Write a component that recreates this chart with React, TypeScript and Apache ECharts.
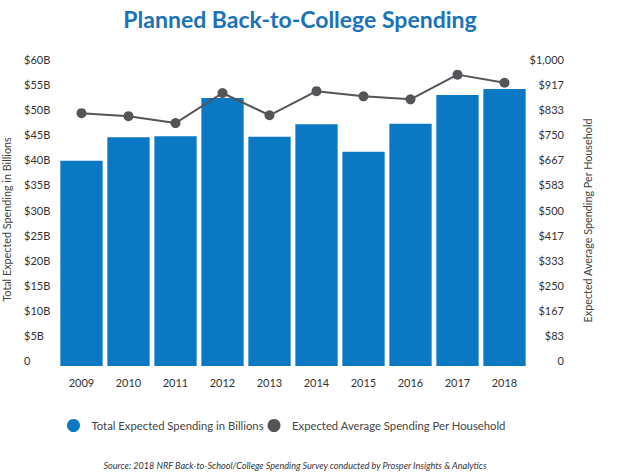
import React, { useEffect, useRef } from "react";
import * as echarts from "echarts";

const years = ["2009", "2010", "2011", "2012", "2013", "2014", "2015", "2016", "2017", "2018"];
const totalSpending = [40.9, 45.6, 45.8, 53.4, 45.7, 48.2, 42.7, 48.3, 54.0, 55.2];
const householdSpending = [840, 830, 807, 907, 833, 913, 896, 886, 968, 941];
const leftTicks = ["0", "$5B", "$10B", "$15B", "$20B", "$25B", "$30B", "$35B", "$40B", "$45B", "$50B", "$55B", "$60B"];
const rightTicks = ["0", "$83", "$167", "$250", "$333", "$417", "$500", "$583", "$667", "$750", "$833", "$917", "$1,000"];

const FONT = "Lato, 'Open Sans', sans-serif";

export default function App() {
  const ref = useRef<HTMLDivElement>(null);
  useEffect(() => {
    document.body.style.margin = "0";
    if (!ref.current) return;
    const chart = echarts.init(ref.current, undefined, { renderer: "svg" });
    chart.setOption({
      animation: false,
      textStyle: { fontFamily: FONT },
      title: {
        text: "Planned Back-to-College Spending",
        left: 295,
        textAlign: "center",
        top: 2,
        textStyle: { fontSize: 23, fontWeight: "bold", color: "#1a72b8", fontFamily: FONT },
      },
      legend: {
        top: 414,
        left: 62,
        itemWidth: 26,
        itemHeight: 13,
        itemGap: 4,
        icon: "circle",
        textStyle: { fontSize: 11.3, color: "#444", fontFamily: FONT },
        data: [
          { name: "Total Expected Spending in Billions", itemStyle: { color: "#0a78c2" } },
          { name: "Expected Average Spending Per Household", itemStyle: { color: "#555559" } },
        ],
      },
      graphic: [
        {
          type: "text",
          x: 295,
          y: 465,
          style: {
            text: "Source: 2018 NRF Back-to-School/College Spending Survey conducted by Prosper Insights & Analytics",
            fontSize: 9.1,
            fontStyle: "italic",
            fill: "#333",
            fontFamily: FONT,
            align: "center",
            verticalAlign: "middle",
          },
        },
      ],
      grid: { left: 58, right: 92, top: 65, bottom: 108, containLabel: false, outerBoundsMode: "none" },
      xAxis: {
        type: "category",
        data: years,
        axisLine: { show: false },
        axisTick: { show: false },
        axisLabel: { color: "#333", fontSize: 11, margin: 11, fontFamily: FONT },
      },
      yAxis: [
        {
          type: "value",
          min: 0,
          max: 60,
          interval: 5,
          name: "Total Expected Spending in Billions",
          nameLocation: "middle",
          nameGap: 46,
          nameTextStyle: { fontSize: 10.8, color: "#444", fontFamily: FONT, padding: [0, 8, 0, 0] },
          splitLine: { show: false },
          axisLine: { show: false },
          axisTick: { show: false },
          axisLabel: {
            align: "left",
            verticalAlign: "bottom",
            margin: 34,
            fontSize: 11,
            color: "#333",
            fontFamily: FONT,
            formatter: (v: number) => leftTicks[Math.round(v / 5)],
          },
        },
        {
          type: "value",
          min: 0,
          max: 60,
          interval: 5,
          name: "Expected Average Spending Per Household",
          nameLocation: "middle",
          nameGap: 54,
          nameTextStyle: { fontSize: 10.8, color: "#444", fontFamily: FONT, padding: [0, 10, 0, 0] },
          splitLine: { show: false },
          axisLine: { show: false },
          axisTick: { show: false },
          axisLabel: {
            align: "right",
            verticalAlign: "bottom",
            margin: 36,
            fontSize: 11,
            color: "#333",
            fontFamily: FONT,
            formatter: (v: number) => rightTicks[Math.round(v / 5)],
          },
        },
      ],
      series: [
        {
          name: "Total Expected Spending in Billions",
          type: "bar",
          data: totalSpending,
          barCategoryGap: "10%",
          itemStyle: { color: "#0a78c2" },
        },
        {
          name: "Expected Average Spending Per Household",
          type: "line",
          yAxisIndex: 1,
          data: householdSpending.map((v) => (v * 60) / 1000),
          symbol: "circle",
          symbolSize: 10,
          lineStyle: { color: "#555559", width: 2 },
          itemStyle: { color: "#555559" },
        },
      ],
    });
    return () => chart.dispose();
  }, []);
  return <div ref={ref} style={{ width: 620, height: 474 }} />;
}
